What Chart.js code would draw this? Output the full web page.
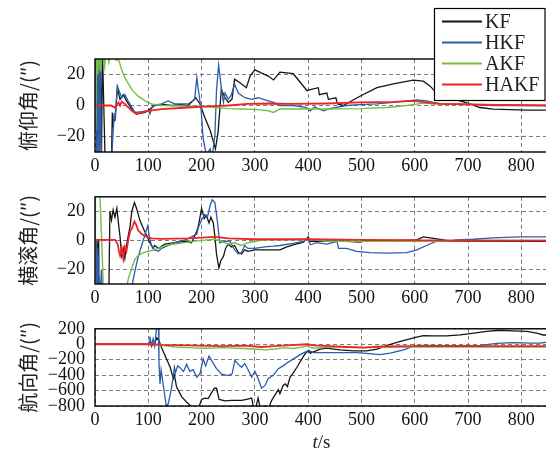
<!DOCTYPE html>
<html>
<head>
<meta charset="utf-8">
<script src="https://cdn.jsdelivr.net/npm/chart.js@4/dist/chart.umd.min.js"></script>
<style>
  html, body { margin: 0; padding: 0; background: #fff; width: 546px; height: 450px; overflow: hidden; }
  canvas { position: absolute; left: 0; }
  .warm { position: absolute; left: -999px; top: 0; font-family: "Liberation Serif"; font-size: 18px; }
</style>
</head>
<body>
<span class="warm">KF 0123456789 <i>t</i>/s</span>
<canvas id="chartPitch" width="552" height="176" style="top:0"></canvas>
<canvas id="chartRoll" width="552" height="132" style="top:176px"></canvas>
<canvas id="chartYaw" width="552" height="142" style="top:308px"></canvas>
<script>
// shared axis
const xTicks = [0, 100, 200, 300, 400, 500, 600, 700, 800];
const xMax = 850;
const seriesNames = ["KF", "HKF", "AKF", "HAKF"];

// pitch (俯仰角)
const pitchTicks = [-20, 0, 20];
const pitchKF_t = [0, 2, 4, 6, 8, 10, 12, 14, 20, 26, 31, 32.5, 34, 38, 42, 47, 53, 59, 69, 78, 94, 103, 112, 130, 144, 160, 175, 189, 197, 206, 216, 226, 231, 237, 244, 250, 257, 262, 272, 284, 291, 300, 312, 325, 335, 347, 372, 385, 398, 400, 419, 421, 435, 438, 452, 455, 466, 497, 529, 560, 597, 616, 629, 641, 660, 685, 704, 722, 747, 810, 850];
const pitchKF = [0, 40, -40, 40, -40, 40, -40, 35, -50, -45, -35, -4.5, -12, -6, 11.5, 4, 7, 3, -2.3, -5.5, -4.5, -2.3, 0, 0.5, 0, 0.5, 0, 5, 1, -7.7, -16, -28, -17, 10.4, 5, 2, 4, 17, 14.7, 11.5, 19, 23, 21, 19, 16.5, 21.5, 20.5, 15, 9.5, 10, 11.5, 7, 8, 4, 5, 1, 0, 6, 11.5, 14, 16.4, 15.7, 12.5, 8, 5, 3, 1, -1.3, -2.3, -3, -3];
const pitchHKF_t = [0, 2, 4, 6, 8, 10, 12, 16, 20, 32, 36, 38, 42, 50, 56, 62, 75, 88, 100, 103, 108, 125, 137, 150, 175, 187, 191, 194, 199, 203, 209, 216, 220, 225, 228, 232, 237, 241, 244, 250, 256, 262, 269, 281, 294, 306, 325, 335, 347, 372, 397, 404, 412, 429, 440, 472, 497, 529, 560, 585, 604, 622, 647, 685, 747, 850];
const pitchHKF = [0, 45, -45, 40, -45, 30, -40, -45, -40, -30, -5, -10, 12.5, 5, 7, 3, -4.5, -4, -3.4, -5.5, 0, 1, 3, 1, 1, 4, 18, 10, -2.3, -21.5, -32, -28, -33, -19, 10, 26, 11.5, 2, 8, 4, 7, 13.6, 8, 5, 4, 5, 3, 2, 0, 0, -1.3, -3.4, -1, -3.4, -2, 0, 0.5, 1, 2, 3, 3.6, 3, 1, 1, 0, 0];
const pitchAKF_t = [0, 1.5, 3, 5, 8, 10, 14, 18, 22, 26, 30, 35, 40, 44, 50, 56, 69, 81, 94, 106, 125, 175, 200, 225, 250, 275, 300, 325, 335, 347, 397, 435, 497, 547, 585, 616, 635, 685, 747, 850];
const pitchAKF = [0, -16, 40, 20, 38, 22, 35, 25, 40, 28, 35, 32, 29, 30, 23, 18, 10.4, 6, 3, 1, 0, -0.5, -0.5, -1.3, -2, -2.3, -2.5, -3.4, -4.5, -2.3, -2.3, -2.3, -2, -1.3, 0, 1.5, 1, 1, 0.5, 0];
const pitchHAKF_t = [0, 30, 37, 44, 47, 50, 56, 62, 69, 78, 87, 100, 125, 175, 212, 250, 287, 325, 372, 435, 497, 560, 597, 622, 650, 716, 850];
const pitchHAKF = [0, 0, -1.3, 2, 0, 2.5, 1, -1, -3.4, -5.5, -4.5, -3.4, -2.3, -1.3, -0.5, 0, 1, 1.3, 1, 1.3, 2, 2.3, 3, 2, 1, 0.5, 0];

// roll (横滚角)
const rollTicks = [-20, 0, 20];
const rollKF_t = [0, 1, 2, 3, 4, 5, 6, 7, 8, 10, 20, 26, 28, 31, 34, 37.5, 41, 44, 47, 50, 53, 56, 59, 62, 66, 69, 74, 78, 84, 91, 97, 103, 109, 112, 119, 131, 150, 169, 181, 191, 194, 200, 205, 209, 214, 217.5, 222, 225, 228, 232.5, 236, 241, 245, 250, 256, 262, 269, 275, 281, 287, 300, 319, 347, 360, 372, 391, 400, 404, 435, 472, 497, 510, 572, 604, 616, 635, 654, 666, 850];
const rollKF = [0, -40, 0, -40, -2, -40, 0, -40, -45, -45, -50, -35, 20, 14, 21, 16, 22, 12, 2.4, -10.4, -5.5, -12.4, -3.5, 2.4, 10, 20, 26, 22, 14, 8, 3.3, -1.6, -5.5, -3.5, -5.5, -2.5, -1.6, -0.6, -1.6, 6.3, 10, 22, 15, 17, 12, 16, 12, 2.4, -9.4, -19, -14, -11, -5.5, -2.5, -4.5, -3.5, -8.4, -9.4, -6.5, -7.5, -6.5, -6.5, -6.5, -4.5, -3, -1.2, 2.4, -0.6, -0.6, -0.6, -1.2, 0, 0, 0.4, 2.4, 1.4, 0.4, -0.6, -0.6];
const rollHKF_t = [0, 1, 2, 3, 4, 5, 6, 7, 8, 10, 12, 14, 18, 40, 65, 69, 75, 81, 87.5, 94, 99, 102, 106, 112, 119, 125, 137.5, 150, 169, 181, 191, 194, 200, 206, 211, 216, 220, 225, 230, 234, 241, 253, 262, 269, 275, 281, 287, 300, 319, 335, 347, 372, 391, 400, 404, 416, 435, 454, 457, 472, 491, 516, 547, 585, 604, 622, 641, 660, 679, 710, 747, 797, 850];
const rollHKF = [0, -20, 0, -30, -5, -35, -10, -30, -25, -40, -20, -35, -45, -50, -45, -32, -21, -11.4, -3.5, 4.3, 10, 2.4, -3.5, -6.5, -7.5, -5.5, -3.5, -1.6, 0.4, 2.4, 4.3, 9, 14, 18, 16, 24, 28, 26, 12, -1.6, -0.6, -0.6, -6.5, -9.4, -8.4, -3.5, -5.5, -5.5, -4.5, -4, -3.5, -2, -0.6, 1.4, -3, -1.6, -2.5, -0.6, -5.5, -5.5, -7.5, -8.4, -8.8, -8.4, -6.5, -3.5, -0.6, -0.6, 0.4, 0.8, 1.8, 2.4, 2.4];
const rollAKF_t = [0, 0.5, 1, 9, 16, 40, 59, 62, 69, 75, 81, 91, 100, 112, 125, 137.5, 150, 175, 200, 225, 237, 250, 262, 275, 287, 300, 319, 372, 400, 435, 497, 591, 700, 850];
const rollAKF = [0, -40, 40, 35, -35, -45, -35, -27, -19, -13, -10.4, -8.4, -7.5, -6.5, -4.5, -3, -2.5, -1.2, 0, 0.8, -0.6, -2.5, -1.6, -3.5, -1.6, -0.6, 0.4, 0.4, 0.8, -0.6, -0.6, -0.6, -0.2, 0];
const rollHAKF_t = [0, 37.5, 42.5, 45, 47, 50, 53, 56, 59, 62.5, 66, 69, 74, 77, 81, 87.5, 97, 106, 125, 175, 225, 250, 300, 400, 497, 622, 850];
const rollHAKF = [0.4, 0.4, -2.5, -7.5, -10.4, -5.5, -12.4, -4.5, -7.5, 0.4, 6.3, 8, 13, 11, 7, 4.3, 2.4, 1.4, 1, 1.4, 2.4, 1.4, 0.8, 0.8, 0.4, 0, -0.2];

// heading (航向角)
const yawTicks = [-800, -600, -400, -200, 0, 200];
const yawKF_t = [0, 100, 103, 106, 112, 116, 120, 125, 134, 141, 147, 149, 153, 162.5, 172, 181, 187.5, 194, 200, 206, 212.5, 219, 224, 228, 231, 233, 244, 256, 275, 284, 294, 297, 300, 303, 306, 311, 319, 325, 331, 337.5, 344, 347, 353, 357, 361, 366, 372, 379, 385, 395, 401, 404, 410, 422.5, 435, 448, 460, 485, 510, 529, 548, 573, 598, 616, 635, 660, 685, 704, 735, 760, 785, 810, 829, 841, 850];
const yawKF = [5, 5, 30, -25, 10, 83, 47, -44, -189, -298, -443, -400, -552, -679, -751, -806, -842, -830, -715, -697, -704, -624, -570, -570, -660, -715, -733, -726, -726, -715, -697, -806, -850, -788, -697, -850, -800, -850, -733, -660, -588, -640, -534, -515, -550, -425, -370, -298, -225, -116, -80, -116, -98, -62, -51, -62, -73, -87, -87, -62, -15, 36, 83, 112, 109, 109, 120, 138, 167, 181, 174, 167, 145, 120, 120];
const yawHKF_t = [0, 100, 102, 103, 106, 109, 112, 116, 119, 120, 122, 124, 126, 130, 134, 137.5, 144, 149, 151, 155, 159, 166, 172, 178, 184, 191, 197, 203, 207.5, 214, 220, 228, 237.5, 250, 257.5, 262.5, 269, 275, 281, 287.5, 294, 300, 306, 312.5, 319, 325, 334, 344, 353, 360, 372.5, 385, 395, 401, 410, 441, 491, 504, 535, 554, 579, 598, 616, 660, 723, 754, 785, 816, 835, 850];
const yawHKF = [0, 0, 30, 100, -20, 70, -25, 250, 240, -225, -515, -334, -425, -624, -806, -770, -552, -298, -370, -280, -300, -352, -261, -352, -330, -425, -380, -189, -280, -152, -225, -316, -388, -406, -380, -207, -261, -298, -250, -334, -425, -350, -443, -570, -534, -443, -406, -316, -280, -243, -189, -134, -98, -80, -109, -109, -109, -116, -134, -116, -73, -25, -15, -18, -15, 11, 22, 15, 15, 29];
const yawAKF_t = [0, 105, 112, 137, 150, 175, 206, 237.5, 269, 300, 319, 337.5, 356, 372, 398, 410, 441, 472, 504, 566, 660, 850];
const yawAKF = [0, 0, -7, -25, -36, -44, -51, -44, -51, -62, -73, -62, -44, -55, -25, -51, -36, -36, -44, -36, -36, -36];
const yawHAKF_t = [0, 110, 125, 175, 237, 281, 312, 337, 359, 398, 410, 441, 472, 504, 535, 598, 850];
const yawHAKF = [0, 0, -7, -15, -25, -18, -36, -25, -15, 0, -15, -25, -36, -44, -29, -25, -25];

// styles
const lineColors = ["#161616", "#2c5cab", "#74c046", "#ee2428"];
const lineWidths = [1.3, 1.3, 1.4, 1.8];
const serif = "'Liberation Serif', 'DejaVu Serif', serif";
const cjk = "'Noto Sans CJK SC', sans-serif";

function toPoints(t, v) {
  return t.map((x, i) => ({ x: x, y: v[i] }));
}

function minusLabel(v) {
  return String(v).replace("-", "\u2212");
}

// frame round the plot area
const framePlugin = {
  id: "frame",
  afterDatasetsDraw(chart) {
    const a = chart.chartArea, ctx = chart.ctx;
    ctx.save();
    ctx.strokeStyle = "#000";
    ctx.lineWidth = 1.4;
    ctx.strokeRect(a.left, a.top, a.right - a.left, a.bottom - a.top);
    ctx.restore();
  }
};

// boxed legend, top right
const boxLegend = {
  id: "boxLegend",
  afterDraw(chart) {
    const ctx = chart.ctx;
    ctx.save();
    ctx.fillStyle = "#fff";
    ctx.fillRect(434, 8, 112, 93);
    ctx.strokeStyle = "#000";
    ctx.lineWidth = 1.2;
    ctx.strokeRect(434.5, 8.5, 110.5, 92);
    ctx.font = "20px " + serif;
    ctx.textBaseline = "middle";
    chart.data.datasets.forEach((ds, i) => {
      const y = 21.5 + i * 21;
      ctx.strokeStyle = ds.borderColor;
      ctx.lineWidth = 2;
      ctx.beginPath();
      ctx.moveTo(442, y);
      ctx.lineTo(482, y);
      ctx.stroke();
      ctx.fillStyle = "#222";
      ctx.fillText(ds.label, 485, y + 1);
    });
    ctx.restore();
  }
};

// x title "t/s" with italic t
const xTitle = {
  id: "xTitle",
  afterDraw(chart) {
    const a = chart.chartArea, ctx = chart.ctx;
    const cx = (a.left + a.right) / 2, y = 135;
    ctx.save();
    ctx.fillStyle = "#222";
    ctx.textBaseline = "middle";
    ctx.font = "italic 19px " + serif;
    const w1 = ctx.measureText("t").width;
    ctx.font = "19px " + serif;
    const w2 = ctx.measureText("/s").width;
    const x0 = cx - (w1 + w2) / 2;
    ctx.font = "italic 19px " + serif;
    ctx.fillText("t", x0, y);
    ctx.font = "19px " + serif;
    ctx.fillText("/s", x0 + w1, y);
    ctx.restore();
  }
};

function makePanel(id, title, yMin, yMax, yTicks, series, padTop, xHeight, plugins) {
  new Chart(document.getElementById(id), {
    type: "line",
    data: {
      datasets: series.map((s, i) => ({
        label: seriesNames[i],
        data: toPoints(s[0], s[1]),
        borderColor: lineColors[i],
        borderWidth: lineWidths[i],
        pointRadius: 0,
        tension: 0,
        fill: false,
        order: 4 - i
      }))
    },
    options: {
      responsive: false,
      animation: false,
      layout: { padding: { top: padTop, right: 4, left: 0, bottom: 0 } },
      plugins: { legend: { display: false }, tooltip: { enabled: false } },
      scales: {
        x: {
          type: "linear",
          min: 0,
          max: xMax,
          afterBuildTicks: s => { s.ticks = xTicks.map(v => ({ value: v })); },
          afterFit: s => { s.height = xHeight; },
          grid: { color: "#7c7c7c", lineWidth: 1, drawTicks: false },
          border: { display: false, dash: [4, 3] },
          ticks: { color: "#111", font: { family: serif, size: 18 }, padding: 3, maxRotation: 0, autoSkip: false }
        },
        y: {
          min: yMin,
          max: yMax,
          afterBuildTicks: s => { s.ticks = yTicks.map(v => ({ value: v })); },
          afterFit: s => { s.width = 95; },
          grid: { color: "#7c7c7c", lineWidth: 1, drawTicks: false },
          border: { display: false, dash: [4, 3] },
          ticks: { color: "#111", font: { family: serif, size: 18 }, padding: 10, autoSkip: false, callback: minusLabel },
          title: { display: true, text: title, color: "#222", font: { family: cjk, size: 20 }, padding: { top: 16, bottom: 0 } }
        }
      }
    },
    plugins: [framePlugin].concat(plugins)
  });
}

function drawAll() {
  makePanel("chartPitch", "俯仰角/(″)", -30, 30, pitchTicks,
    [[pitchKF_t, pitchKF], [pitchHKF_t, pitchHKF], [pitchAKF_t, pitchAKF], [pitchHAKF_t, pitchHAKF]],
    59, 24, [boxLegend]);

  makePanel("chartRoll", "横滚角/(″)", -30, 30, rollTicks,
    [[rollKF_t, rollKF], [rollHKF_t, rollHKF], [rollAKF_t, rollAKF], [rollHAKF_t, rollHAKF]],
    6, 24, []);

  makePanel("chartYaw", "航向角/(″)", -800, 200, yawTicks,
    [[yawKF_t, yawKF], [yawHKF_t, yawHKF], [yawAKF_t, yawAKF], [yawHAKF_t, yawHAKF]],
    6, 44, [xTitle]);
}

Promise.all([
  document.fonts.load("18px 'Liberation Serif'"),
  document.fonts.load("italic 19px 'Liberation Serif'"),
  document.fonts.load("20px 'Noto Sans CJK SC'", "俯仰角横滚航向")
]).then(drawAll, drawAll);
</script>
</body>
</html>
